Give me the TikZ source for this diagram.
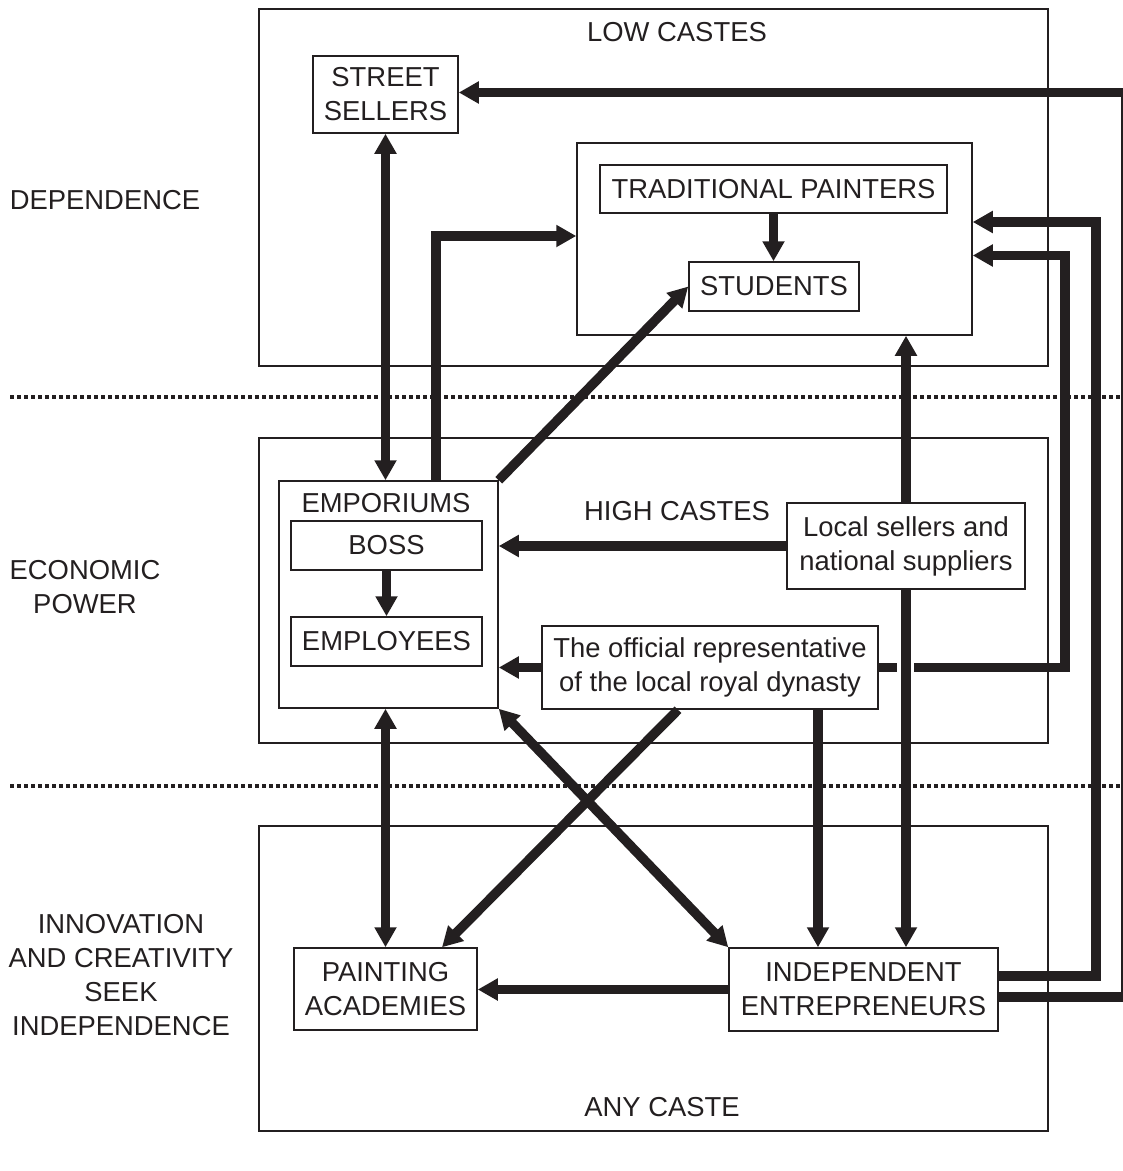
\documentclass[tikz,border=0pt]{standalone}
\usepackage{fontspec}
\setmainfont{Liberation Sans}
\usetikzlibrary{arrows.meta}
\definecolor{ink}{RGB}{35,31,32}

\tikzset{
  box/.style={draw, line width=1.5pt, inner sep=0pt, align=center},
  flow/.style={line width=9.5pt, -{Triangle[length=20pt,width=21pt]}},
  both/.style={line width=9.5pt, {Triangle[length=20pt,width=21pt]}-{Triangle[length=20pt,width=21pt]}},
  band/.style={line width=3.5pt, dash pattern=on 3.5pt off 3.5pt},
}

\begin{document}
\begin{tikzpicture}[x=1pt, y=-1pt, color=ink, every node/.style={font=\fontsize{27.4}{34}\selectfont}]
    \useasboundingbox (0,0) rectangle (1123,1171);
    % the three layers
    \draw[line width=1.5pt] (259,9) rectangle (1048,366);
    \draw[line width=1.5pt] (259,438) rectangle (1048,743);
    \draw[line width=1.5pt] (259,826) rectangle (1048,1131);
    \draw[band] (10,397) -- (1123,397);
    \draw[band] (10,786) -- (1123,786);
    \node (dep) at (105,200) {DEPENDENCE};
    \node[align=center] (eco) at (85,587) {ECONOMIC\\POWER};
    \node[align=center] (inno) at (121,975) {INNOVATION\\AND CREATIVITY\\SEEK\\INDEPENDENCE};
    \node (low) at (677,32) {LOW CASTES};
    \node (high) at (677,511) {HIGH CASTES};
    \node (any) at (662,1107) {ANY CASTE};
    % actors
    \node[box, minimum width=145pt, minimum height=77pt] (sellers) at (385.5,94.5) {STREET\\SELLERS};
    \node[box, minimum width=395pt, minimum height=192pt] (painters) at (774.5,239) {};
    \node[box, minimum width=347pt, minimum height=48pt] (trad) at (773.5,189) {TRADITIONAL PAINTERS};
    \node[box, minimum width=170pt, minimum height=49pt] (students) at (774,286.5) {STUDENTS};
    \node[box, minimum width=219pt, minimum height=227pt] (emporiums) at (388.5,594.5) {};
    \node (emptitle) at (386,503) {EMPORIUMS};
    \node[box, minimum width=191pt, minimum height=49pt] (boss) at (386.5,545.5) {BOSS};
    \node[box, minimum width=191pt, minimum height=49pt] (employees) at (386.5,641.5) {EMPLOYEES};
    \node[box, minimum width=238pt, minimum height=86pt] (local) at (906,546) {Local sellers and\\national suppliers};
    \node[box, minimum width=336pt, minimum height=83pt] (royal) at (710,667.5) {The official representative\\of the local royal dynasty};
    \node[box, minimum width=183pt, minimum height=82pt] (academies) at (385.5,989) {PAINTING\\ACADEMIES};
    \node[box, minimum width=269pt, minimum height=83pt] (entre) at (863.5,989.5) {INDEPENDENT\\ENTREPRENEURS};
    % flows
    \draw[flow] (trad.south) -- (trad.south |- students.north);
    \draw[flow] (boss) -- (employees);
    \draw[both] (sellers.south) -- (sellers.south |- emporiums.north);
    \draw[flow] ([xshift=47.5pt]emporiums.north) |- ([yshift=3pt]painters.west);
    \draw[flow] (emporiums.north east) -- (students.west);
    \draw[flow] (local.north) -- (local.north |- painters.south);
    \draw[flow] (local.west) -- (local.west -| emporiums.east);
    \draw[flow] (royal.west) -- (royal.west -| emporiums.east);
    \draw[flow] ([xshift=108pt]royal.south) -- ([xshift=108pt]royal.south |- entre.north);
    \draw[flow] ([xshift=-32pt]royal.south) -- ([xshift=56.5pt]academies.north);
    \draw[both] (emporiums.south east) -- (entre.north west);
    \draw[both] (academies.north |- emporiums.south) -- (academies.north);
    \draw[flow] (entre.west) -- (entre.west -| academies.east);
    % long routes on the right
    \draw[flow] (royal.east) -- ++(186,0) |- ([yshift=-16.5pt]painters.east);
    \draw[flow] ([yshift=13.5pt]entre.east) -- ++(97,0) |- ([yshift=17pt]painters.east);
    \draw[flow] ([yshift=-7.5pt]entre.east) -- ++(127,0) |- ([yshift=2pt]sellers.east);
    \fill[white] (897,660) rectangle (914,676);
    \draw[flow] (local.south) -- (local.south |- entre.north);
\end{tikzpicture}
\end{document}
